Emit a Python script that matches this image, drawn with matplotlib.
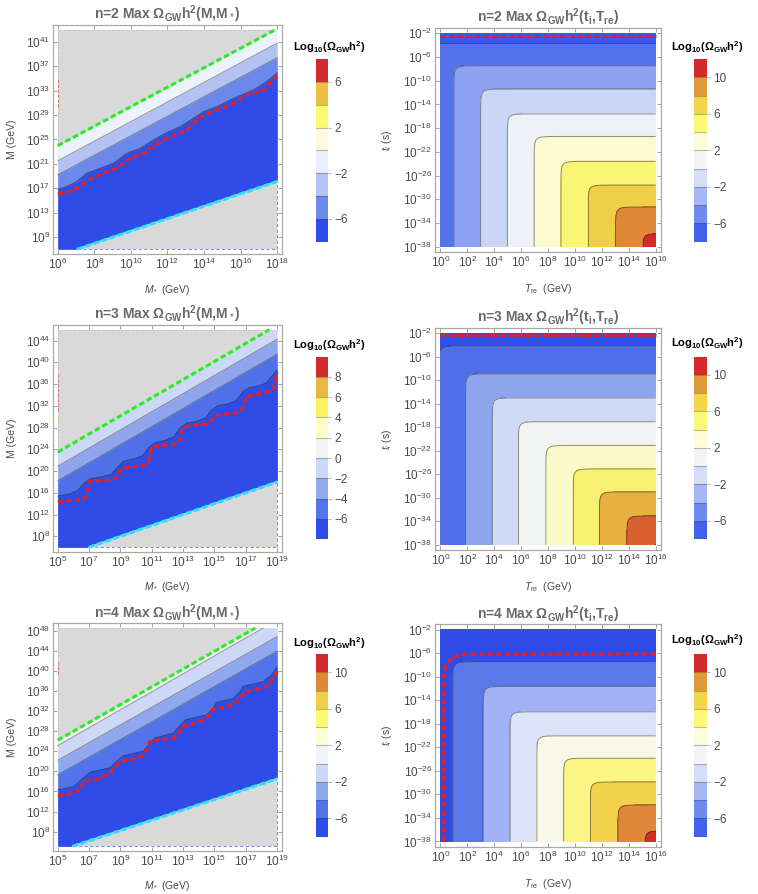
import numpy as np
import matplotlib
matplotlib.use("Agg")
import matplotlib.pyplot as plt
from matplotlib.colors import ListedColormap, BoundaryNorm
from matplotlib.cm import ScalarMappable

plt.rcParams["font.family"] = ["Liberation Sans", "DejaVu Sans"]
plt.rcParams["mathtext.fontset"] = "custom"
plt.rcParams["mathtext.rm"] = "Liberation Sans"
plt.rcParams["mathtext.it"] = "Liberation Sans:italic"
plt.rcParams["mathtext.bf"] = "Liberation Sans:bold"

# ---------------- data (all axes in log10 units) ----------------
n_values = [2, 3, 4]

# left column: Max Omega(M, M*)
left_xrange = [(6, 18), (5, 19), (5, 19)]
left_yrange = [(7, 43), (6, 46), (5.1, 48.5)]
left_xticks = [list(range(6, 19, 2)), list(range(5, 20, 2)), list(range(5, 20, 2))]
left_yticks = [list(range(9, 42, 4)), list(range(8, 45, 4)), list(range(8, 49, 4))]

green_x = [[6, 17.9], [5, 18.5], [5, 17.6]]
green_y = [[24.0, 43.0], [23.5, 46.0], [26.2, 48.5]]
cyan_x = [[7.07, 18], [7.0, 19], [5.96, 19]]
cyan_y = [[7.0, 18.1], [6.0, 18.0], [5.1, 18.5]]

# straight contour lines below the green bound
straight2 = [([6, 18], [21.5, 40.8]), ([6, 18], [19.2, 38.4])]
straight3 = [([5, 19], [20.9, 44.25]), ([5, 19], [18.2, 41.5])]
straight4 = [([5, 18.1], [25.1, 48.5]), ([5, 19], [22.2, 46.8]), ([5, 19], [19.3, 43.9])]

# lowest (wavy) contour
wavy2_x = [6.0, 6.49, 7.04, 7.58, 8.31, 9.04, 9.77, 10.5, 11.23, 11.95, 12.68, 13.41, 13.96, 14.69, 15.6, 16.69, 17.42, 18.0]
wavy2_y = [16.82, 17.26, 18.07, 19.44, 20.26, 21.08, 22.71, 23.53, 24.89, 26.09, 27.08, 28.44, 29.53, 30.35, 31.71, 33.08, 34.44, 35.91]
wavy3_x = [5.0, 5.8, 6.3, 6.7, 7.1, 7.8, 8.4, 8.8, 9.2, 9.8, 10.4, 10.8, 11.2, 11.8, 12.4, 12.8, 13.2, 13.8, 14.4, 14.8, 15.2, 15.8, 16.4, 16.8, 17.2, 17.8, 18.3, 18.7, 19.0]
wavy3_y = [15.4, 15.8, 16.5, 17.8, 18.6, 18.9, 19.4, 20.6, 21.8, 22.2, 22.8, 24.3, 25.2, 25.6, 26.3, 27.9, 28.8, 29.1, 29.7, 31.1, 32.0, 32.3, 33.0, 34.5, 35.3, 35.6, 36.2, 37.6, 38.6]
wavy4_x = [5.0, 6.0, 6.53, 7.06, 8.34, 8.76, 9.19, 10.46, 10.88, 11.2, 12.37, 12.8, 13.12, 14.5, 14.92, 15.13, 16.2, 16.62, 16.83, 18.11, 18.64, 19.0]
wavy4_y = [16.3, 16.9, 18.4, 19.8, 20.7, 22.0, 23.1, 24.0, 25.6, 26.6, 27.6, 29.1, 30.2, 31.2, 32.5, 33.7, 34.5, 35.8, 36.9, 37.8, 39.1, 40.8]

# red dotted staircase
red2_x = [6.0, 6.49, 7.04, 7.68, 8.49, 9.22, 9.95, 10.68, 11.41, 12.14, 13.05, 13.78, 14.69, 15.6, 16.32, 17.23, 17.69, 18.0]
red2_y = [16.06, 16.27, 16.98, 18.35, 19.44, 20.26, 21.89, 22.71, 24.24, 25.44, 26.53, 28.71, 29.8, 30.89, 32.26, 33.08, 34.44, 35.37]
red3_x = [5.0, 6.5, 6.8, 6.9, 7.0, 8.5, 8.8, 8.95, 9.1, 10.5, 10.8, 10.9, 11.0, 12.5, 12.8, 12.9, 13.0, 14.5, 14.8, 14.9, 15.1, 16.5, 16.8, 16.9, 17.0, 18.5, 18.8, 18.9, 19.0]
red3_y = [14.3, 14.8, 15.2, 16.5, 18.1, 18.4, 18.9, 19.8, 20.5, 21.1, 21.8, 23.0, 24.4, 25.0, 25.8, 27.0, 28.1, 28.7, 29.3, 29.8, 30.2, 30.8, 31.5, 32.6, 33.6, 34.7, 35.4, 36.8, 38.2]
red4_x = [5.0, 6.0, 6.42, 6.74, 7.7, 8.34, 8.97, 10.25, 10.67, 10.88, 12.37, 12.69, 12.9, 14.39, 14.82, 16.2, 16.62, 16.94, 18.32, 18.75, 19.0]
red4_y = [15.2, 15.6, 16.4, 18.1, 18.5, 19.7, 22.0, 22.7, 24.3, 26.0, 26.6, 27.6, 28.9, 30.2, 32.2, 33.2, 34.5, 35.8, 36.8, 38.5, 40.0]

left_straight = [straight2, straight3, straight4]
left_wavy = [(wavy2_x, wavy2_y), (wavy3_x, wavy3_y), (wavy4_x, wavy4_y)]
left_red = [(red2_x, red2_y), (red3_x, red3_y), (red4_x, red4_y)]
left_colors = [["#eef2fc", "#b2c3f3", "#6b88ea", "#2f4de6"],
               ["#ccd8f6", "#8fa6ee", "#5070e8", "#2f4de6"],
               ["#f0f3f9", "#cdd8f6", "#90a8f0", "#5274ea", "#2f4de6"]]
# faint edge artifacts at the left border (y from, y to, colour)
left_edge_marks = [[(30.3, 35.0, "#e04040"), (29.3, 30.3, "#e8d040")],
                   [(31.1, 38.2, "#e04040"), (28.7, 30.2, "#e8d040")],
                   [(39.4, 41.8, "#e04040")]]

# right column: Max Omega(t_i, T_re)
right_xticks = list(range(0, 17, 2))
right_yticks = list(range(-2, -39, -4))
tx_pos = [[0, 1.0, 2.99, 4.98, 6.97, 8.96, 11.0, 13.01, 15.05, 16],
          [0, 1.87, 3.86, 5.8, 7.84, 9.88, 11.82, 13.86, 16],
          [0, 0.92, 3.18, 5.18, 7.17, 9.16, 11.15, 13.19, 15.2, 16]]
tx_lev = [[-5, -4, -2, 0, 2, 4, 6, 8, 10, 10.95],
          [-5.9, -4, -2, 0, 2, 4, 6, 8, 10.1],
          [-4.9, -4, -2, 0, 2, 4, 6, 8, 10, 10.8]]
ti_pos = [[-38, -35.8, -31.3, -27.6, -23.6, -19.4, -15.6, -11.4, -7.47, -3.7, -2],
          [-38, -33.1, -29.0, -25.1, -21.1, -17.05, -13.0, -8.9, -4.13, -2],
          [-38, -36.2, -31.8, -27.9, -23.87, -20.06, -15.97, -11.65, -7.44, -2]]
ti_lev = [[11.1, 10, 8, 6, 4, 2, 0, -2, -4, -6, -6.8],
          [10.4, 8, 6, 4, 2, 0, -2, -4, -6, -7.0],
          [10.9, 10, 8, 6, 4, 2, 0, -2, -4, -6.7]]
right_levels = [[-10, -6, -4, -2, 0, 2, 4, 6, 8, 10, 14],
                [-10, -6, -4, -2, 0, 2, 4, 6, 8, 10, 14],
                [-10, -4, -2, 0, 2, 4, 6, 8, 10, 14]]
right_colors = [["#3a5ae8", "#5273ea", "#8aa2ef", "#cbd6f6", "#eef1f5", "#fcfad0", "#fbf574", "#f0cf48", "#e08838", "#d42a2a"],
                ["#2f4fe6", "#5070ea", "#8da4ee", "#d0daf6", "#f2f4f3", "#fbfac8", "#f8f070", "#e8b040", "#d8602f", "#c42020"],
                ["#2f4de6", "#5a78ea", "#a0b2f3", "#dce3f8", "#f8f8e8", "#fbf585", "#f2d24a", "#e08838", "#d42a2a"]]
right_red = [([0, 16], [-2.4, -2.4]),
             ([0, 16], [-2.3, -2.3]),
             ([0.25, 0.25, 0.4, 0.9, 2.0, 16], [-38, -10, -8.2, -6.6, -6.2, -6.15])]

# colour bars
cbar_left_bounds = [list(range(-8, 9, 2)), list(range(-8, 11, 2)), list(range(-8, 13, 2))]
cbar_left_colors = [["#2f4de8", "#6d8aec", "#b4c5f4", "#eaeffb", "#fdfbdc", "#fefb6e", "#ecbf42", "#d22a2e"],
                    ["#2f4de8", "#5474ea", "#93aaf0", "#cdd8f7", "#f2f3f4", "#fefcc8", "#fcf260", "#ebb745", "#d22a2e"],
                    ["#2f4de8", "#5274ea", "#90a8f0", "#cdd8f6", "#f0f3f9", "#fefcd4", "#fefb70", "#f0cf48", "#e08838", "#d22a2e"]]
cbar_left_ticks = [[-6, -2, 2, 6], [-6, -4, -2, 0, 2, 4, 6, 8], [-6, -2, 2, 6, 10]]
cbar_right_bounds = list(range(-8, 13, 2))
cbar_right_colors = ["#4262ec", "#6e8aee", "#a6b8f4", "#d5ddf8", "#f3f4f5", "#fdfcd8", "#fcf87a", "#f2d54a", "#e09a3a", "#d42a2a"]
cbar_right_ticks = [-6, -2, 2, 6, 10]

GRAY = "#d9d9d9"
TXT = "#4a4a4a"

# ---------------- layout (figure fractions) ----------------
ax_left_pos = [[0.0699, 0.7159, 0.3021, 0.2562], [0.0699, 0.3826, 0.3021, 0.2539], [0.0699, 0.0481, 0.3021, 0.2547]]
ax_right_pos = [[0.5739, 0.7181, 0.2982, 0.2506], [0.5739, 0.3848, 0.2982, 0.2483], [0.5739, 0.0529, 0.2982, 0.2488]]
cax_left_pos = [[0.4169, 0.7296, 0.0162, 0.2044], [0.4169, 0.3968, 0.0162, 0.2043], [0.4169, 0.0641, 0.0162, 0.2043]]
cax_right_pos = [[0.916, 0.7296, 0.0166, 0.2044], [0.916, 0.3968, 0.0166, 0.2043], [0.916, 0.0641, 0.0166, 0.2043]]
cbar_title_left = [(0.434, 1 - 46.7 / 894), (0.434, 1 - 345 / 894), (0.434, 1 - 643 / 894)]
cbar_title_right = [(0.933, 1 - 46.7 / 894), (0.933, 1 - 343 / 894), (0.933, 1 - 640 / 894)]


def exp_label(v):
    return "$10^{%d}$" % v


def style_axes(ax, xr, yr, xt, yt, pad=0.022):
    dx = xr[1] - xr[0]
    dy = yr[1] - yr[0]
    ax.set_xlim(xr[0] - pad * dx, xr[1] + pad * dx)
    ax.set_ylim(yr[0] - pad * dy, yr[1] + pad * dy)
    ax.set_xticks(xt)
    ax.set_xticklabels([exp_label(v) for v in xt])
    ax.set_yticks(yt)
    ax.set_yticklabels([exp_label(v) for v in yt])
    ax.tick_params(direction="in", length=3, width=0.6, color="#909090", labelsize=8.5,
                   labelcolor=TXT, pad=2, top=True, right=True)
    for sp in ax.spines.values():
        sp.set_color("#a8a8a8")
        sp.set_linewidth(0.9)


def dashed(ax, x, y, col, lw=2.2):
    ax.plot(x, y, color=col, lw=lw, ls=(0, (1.8, 1.0)), solid_capstyle="butt", zorder=6)


def draw_left(ax, k):
    x0, x1 = left_xrange[k]
    y0, y1 = left_yrange[k]
    xs = np.linspace(x0, x1, 800)
    ax.fill_between([x0, x1], y0, y1, color=GRAY, lw=0, zorder=1)
    top = np.interp(xs, green_x[k], green_y[k])
    bottom = np.interp(xs, cyan_x[k], cyan_y[k])
    bounds = [top] + [np.interp(xs, cx, cy) for cx, cy in left_straight[k]]
    bounds.append(np.interp(xs, left_wavy[k][0], left_wavy[k][1]))
    for j, col in enumerate(left_colors[k]):
        upper = np.minimum(bounds[j], top)
        ax.fill_between(xs, bottom, upper, color=col, lw=0, zorder=2 + 0.01 * j)
    # contour lines
    for cx, cy in left_straight[k]:
        ax.plot(cx, cy, color="#303030", lw=0.8, alpha=0.45, zorder=3)
    ax.plot(left_wavy[k][0], left_wavy[k][1], color="#101840", lw=0.8, alpha=0.55, zorder=3)
    # region borders
    gx_end = green_x[k][1]
    ax.plot([x0, gx_end], [y1, y1], color="#c4c4d0", lw=0.7, ls=(0, (3, 2)), zorder=4)
    ax.plot([x0, x0], [green_y[k][0], y1], color="#c4c4d0", lw=0.7, ls=(0, (3, 2)), zorder=4)
    ax.plot([cyan_x[k][0], x1], [y0, y0], color="#7a96ee", lw=0.8, ls=(0, (3, 2)), zorder=4)
    ax.plot([x1, x1], [y0, cyan_y[k][1]], color="#7a96ee", lw=0.8, ls=(0, (3, 2)), zorder=4)
    for ya, yb, col in left_edge_marks[k]:
        ax.plot([x0, x0], [ya, yb], color=col, lw=0.7, ls=(0, (3, 2)), alpha=0.7, zorder=4)
    # bounds
    ax.plot(green_x[k], green_y[k], color="#b8f0b0", lw=1.2, zorder=5)
    dashed(ax, green_x[k], green_y[k], "#2ee82e")
    ax.plot(cyan_x[k], cyan_y[k], color="#a8ccff", lw=1.4, zorder=5)
    dashed(ax, cyan_x[k], cyan_y[k], "#22e6f2")
    dashed(ax, left_red[k][0], left_red[k][1], "#ee1c1c")
    style_axes(ax, (x0, x1), (y0, y1), left_xticks[k], left_yticks[k])
    ax.set_xlabel("$M_*$ (GeV)", fontsize=7.5, color=TXT)
    ax.set_ylabel("M (GeV)", fontsize=7.5, color=TXT)
    ax.xaxis.set_label_coords(0.5, -0.125)
    ax.yaxis.set_label_coords(-0.155, 0.5)
    ax.set_title("n=%d Max " % n_values[k] + r"$\mathbf{\Omega_{GW}h^2}$" + "(M,M$_*$)",
                 fontsize=10, color="#6a6a6a", fontweight="bold", pad=4)


def draw_right(ax, k):
    xs = np.linspace(0, 16, 600)
    ys = np.linspace(-38, -2, 600)
    X, Y = np.meshgrid(xs, ys)
    vx = np.interp(X, tx_pos[k], tx_lev[k])
    vy = np.interp(Y, ti_pos[k], ti_lev[k])
    s = 0.3
    V = -s * np.logaddexp(-vx / s, -vy / s)
    ax.contourf(X, Y, V, levels=right_levels[k], colors=right_colors[k], zorder=1)
    ax.contour(X, Y, V, levels=right_levels[k][1:-1], colors="#202020", linewidths=0.7,
               linestyles="solid", alpha=0.5, zorder=2)
    dashed(ax, right_red[k][0], right_red[k][1], "#ee1c1c")
    style_axes(ax, (0, 16), (-38, -2), right_xticks, right_yticks, pad=0.025)
    ax.set_xlabel("$T_{\\rm re}$  (GeV)", fontsize=7.5, color=TXT)
    ax.set_ylabel("$t_i$ (s)", fontsize=7.5, color=TXT)
    ax.xaxis.set_label_coords(0.5, -0.135)
    ax.yaxis.set_label_coords(-0.18, 0.5)
    ax.set_title("n=%d Max " % n_values[k] + r"$\mathbf{\Omega_{GW}h^2}$" + r"(t$_\mathbf{i}$,T$_\mathbf{re}$)",
                 fontsize=10, color="#6a6a6a", fontweight="bold", pad=4)


def draw_cbar(fig, cax, bounds, colors, ticks):
    sm = ScalarMappable(norm=BoundaryNorm(bounds, len(colors)), cmap=ListedColormap(colors))
    cb = fig.colorbar(sm, cax=cax, boundaries=bounds, ticks=ticks)
    cb.outline.set_visible(False)
    for b in bounds[1:-1]:
        cax.axhline(b, color="#404040", lw=0.8, alpha=0.35)
    cb.ax.minorticks_off()
    cb.ax.set_yticklabels(["\u2212%d" % -t if t < 0 else "%d" % t for t in ticks])
    cb.ax.tick_params(length=2.5, width=0.5, color="#909090", labelsize=8.5, labelcolor=TXT, pad=2)


CBAR_TITLE = r"Log$_{\mathbf{10}}$($\mathbf{\Omega_{GW}}\mathbf{h^2}$)"

fig = plt.figure(figsize=(7.58, 8.94), dpi=100)
for k in range(3):
    axl = fig.add_axes(ax_left_pos[k])
    draw_left(axl, k)
    axr = fig.add_axes(ax_right_pos[k])
    draw_right(axr, k)
    draw_cbar(fig, fig.add_axes(cax_left_pos[k]), cbar_left_bounds[k], cbar_left_colors[k], cbar_left_ticks[k])
    draw_cbar(fig, fig.add_axes(cax_right_pos[k]), cbar_right_bounds, cbar_right_colors, cbar_right_ticks)
    fig.text(cbar_title_left[k][0], cbar_title_left[k][1], CBAR_TITLE, fontsize=8,
             fontweight="bold", ha="center", va="center")
    fig.text(cbar_title_right[k][0], cbar_title_right[k][1], CBAR_TITLE, fontsize=8,
             fontweight="bold", ha="center", va="center")

fig.savefig("out.png", dpi=100)
